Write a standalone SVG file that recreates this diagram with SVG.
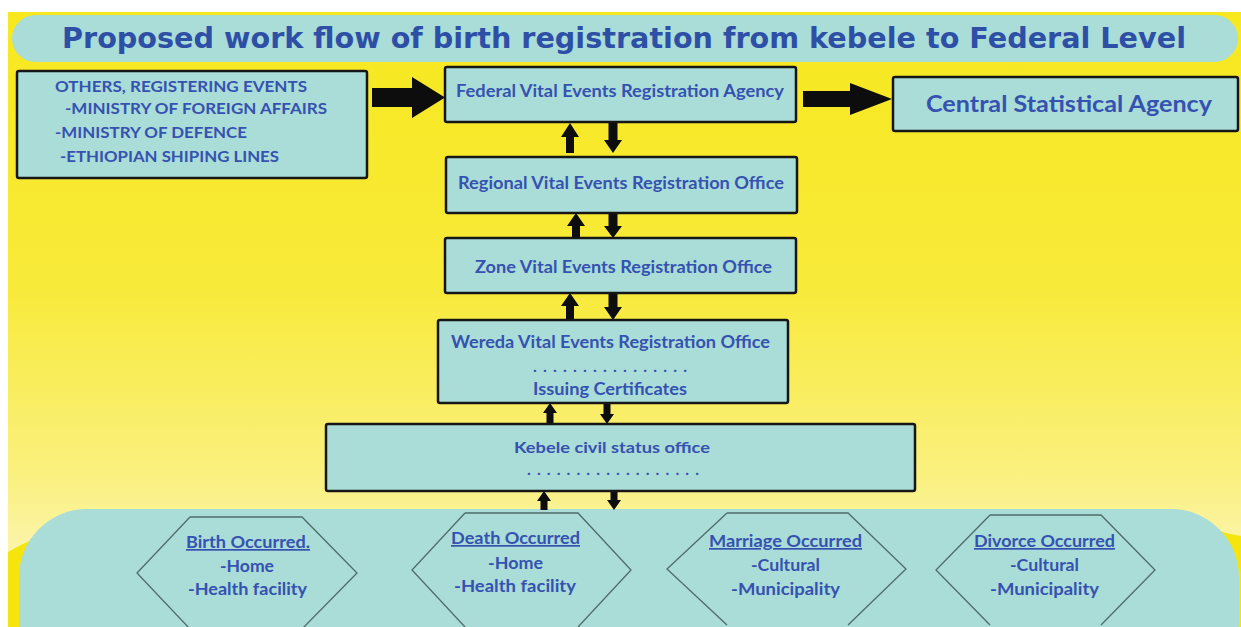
<svg xmlns="http://www.w3.org/2000/svg" width="1241" height="627" viewBox="0 0 1241 627">
<defs>
<linearGradient id="bg" x1="0" y1="0" x2="0" y2="1">
<stop offset="0" stop-color="#f7e81e"/>
<stop offset="0.45" stop-color="#f8ea3a"/>
<stop offset="0.75" stop-color="#faf07e"/>
<stop offset="0.95" stop-color="#fdf7c4"/>
</linearGradient>
<style>
.box{fill:#aadcd8;stroke:#161616;stroke-width:2.5}
.t{font-family:Lato,"Open Sans","Liberation Sans",sans-serif;font-weight:bold;fill:#3552b0}
.hex{fill:none;stroke:#4e6c68;stroke-width:1.3}
.arr{fill:#0d0d0d}
</style>
</defs>
<rect x="0" y="0" width="1241" height="627" fill="#ffffff"/>
<rect x="8" y="12" width="1233" height="615" fill="url(#bg)"/>
<path d="M8,552 Q20,545 40,536 L60,520 L1180,520 L1230,534 L1241,536 L1241,627 L8,627 Z" fill="#f6e50c"/>
<rect x="12" y="15" width="1226" height="47" rx="23.5" fill="#aadcd8"/>
<text x="624" y="48" text-anchor="middle" textLength="1124" lengthAdjust="spacingAndGlyphs" style="font-family:'DejaVu Sans','Liberation Sans',sans-serif;font-weight:bold;font-size:28px;fill:#2e4fa6">Proposed work flow of birth registration from kebele to Federal Level</text>
<rect x="19" y="509" width="1220" height="180" rx="68" fill="#aadcd8"/>

<g id="connectors">
<path class="arr" d="M372,88 L412,88 L412,77 L445,97.5 L412,118 L412,107 L372,107 Z"/>
<path class="arr" d="M803,91 L850,91 L850,83 L892,99 L850,115 L850,107 L803,107 Z"/>
<path class="arr" d="M570,123 L579,137 L574,137 L574,153 L566,153 L566,137 L561,137 Z"/>
<path class="arr" d="M613,153 L622,140 L617.5,140 L617.5,123 L608.5,123 L608.5,140 L604,140 Z"/>
<path class="arr" d="M576,213 L585,226 L580,226 L580,238 L572,238 L572,226 L567,226 Z"/>
<path class="arr" d="M613,238 L622,226 L617.5,226 L617.5,213 L608.5,213 L608.5,226 L604,226 Z"/>
<path class="arr" d="M570,293 L579,306 L574,306 L574,320 L566,320 L566,306 L561,306 Z"/>
<path class="arr" d="M613,320 L622,307 L617.5,307 L617.5,293 L608.5,293 L608.5,307 L604,307 Z"/>
<path class="arr" d="M550,403 L557,413 L553.5,413 L553.5,424 L546.5,424 L546.5,413 L543,413 Z"/>
<path class="arr" d="M607,424 L614,414 L610.5,414 L610.5,403 L603.5,403 L603.5,414 L600,414 Z"/>
<path class="arr" d="M544,491 L551,501 L547.5,501 L547.5,510 L540.5,510 L540.5,501 L537,501 Z"/>
<path class="arr" d="M614,510 L621,500 L617.5,500 L617.5,491 L610.5,491 L610.5,500 L607,500 Z"/>
</g>

<g id="others">
<rect class="box" x="17" y="71" width="350" height="107" rx="2"/>
<text class="t" x="55" y="92" font-size="16" textLength="252" lengthAdjust="spacingAndGlyphs">OTHERS, REGISTERING EVENTS</text>
<text class="t" x="65" y="114" font-size="16" textLength="262" lengthAdjust="spacingAndGlyphs">-MINISTRY OF FOREIGN AFFAIRS</text>
<text class="t" x="55" y="138" font-size="16" textLength="192" lengthAdjust="spacingAndGlyphs">-MINISTRY OF DEFENCE</text>
<text class="t" x="60" y="162" font-size="16" textLength="219" lengthAdjust="spacingAndGlyphs">-ETHIOPIAN SHIPING LINES</text>
</g>

<g id="federal">
<rect class="box" x="445" y="67" width="351" height="55" rx="2"/>
<text class="t" x="620" y="97" font-size="16.5" text-anchor="middle" textLength="328" lengthAdjust="spacingAndGlyphs">Federal Vital Events Registration Agency</text>
</g>

<g id="csa">
<rect class="box" x="893" y="77" width="345" height="54" rx="2"/>
<text class="t" x="1069" y="112" font-size="22" text-anchor="middle" textLength="286" lengthAdjust="spacingAndGlyphs">Central Statistical Agency</text>
</g>

<g id="regional">
<rect class="box" x="446" y="157" width="351" height="56" rx="2"/>
<text class="t" x="621" y="189" font-size="16.5" text-anchor="middle" textLength="326" lengthAdjust="spacingAndGlyphs">Regional Vital Events Registration Office</text>
</g>

<g id="zone">
<rect class="box" x="445" y="238" width="351" height="55" rx="2"/>
<text class="t" x="623.5" y="273" font-size="16.5" text-anchor="middle" textLength="297" lengthAdjust="spacingAndGlyphs">Zone Vital Events Registration Office</text>
</g>

<g id="wereda">
<rect class="box" x="438" y="320" width="350" height="83" rx="2"/>
<text class="t" x="610.5" y="348" font-size="16.5" text-anchor="middle" textLength="319" lengthAdjust="spacingAndGlyphs">Wereda Vital Events Registration Office</text>
<text class="t" x="610" y="372" font-size="16" text-anchor="middle" textLength="154" lengthAdjust="spacing">................</text>
<text class="t" x="610" y="395" font-size="16.5" text-anchor="middle" textLength="154" lengthAdjust="spacingAndGlyphs">Issuing Certificates</text>
</g>

<g id="kebele">
<rect class="box" x="326" y="424" width="589" height="67" rx="2"/>
<text class="t" x="612" y="453" font-size="16" text-anchor="middle" textLength="196" lengthAdjust="spacingAndGlyphs">Kebele civil status office</text>
<text class="t" x="613" y="475" font-size="16" text-anchor="middle" textLength="172" lengthAdjust="spacing">..................</text>
</g>

<g id="birth">
<path class="hex" d="M190,517 L302,517 L357,573 L302,629 M190,629 L137,573 L190,517"/>
<text class="t" x="248" y="548" font-size="17" text-anchor="middle" text-decoration="underline" textLength="124" lengthAdjust="spacingAndGlyphs">Birth Occurred.</text>
<text class="t" x="247" y="572" font-size="17" text-anchor="middle" textLength="54" lengthAdjust="spacingAndGlyphs">-Home</text>
<text class="t" x="247.5" y="595" font-size="17" text-anchor="middle" textLength="119" lengthAdjust="spacingAndGlyphs">-Health facility</text>
</g>

<g id="death">
<path class="hex" d="M465,513 L578,513 L631,570 L578,627 M465,627 L412,570 L465,513"/>
<text class="t" x="515.5" y="544" font-size="17" text-anchor="middle" text-decoration="underline" textLength="129" lengthAdjust="spacingAndGlyphs">Death Occurred</text>
<text class="t" x="515.5" y="569" font-size="17" text-anchor="middle" textLength="55" lengthAdjust="spacingAndGlyphs">-Home</text>
<text class="t" x="515" y="592" font-size="17" text-anchor="middle" textLength="122" lengthAdjust="spacingAndGlyphs">-Health facility</text>
</g>

<g id="marriage">
<path class="hex" d="M727,513 L848,513 L906,569 L848,625 M727,625 L667,569 L727,513"/>
<text class="t" x="785.5" y="547" font-size="17" text-anchor="middle" text-decoration="underline" textLength="153" lengthAdjust="spacingAndGlyphs">Marriage Occurred</text>
<text class="t" x="785.5" y="571" font-size="17" text-anchor="middle" textLength="69" lengthAdjust="spacingAndGlyphs">-Cultural</text>
<text class="t" x="785.5" y="595" font-size="17" text-anchor="middle" textLength="109" lengthAdjust="spacingAndGlyphs">-Municipality</text>
</g>

<g id="divorce">
<path class="hex" d="M990,515 L1101,515 L1155,570 L1101,625 M990,625 L936,570 L990,515"/>
<text class="t" x="1044.5" y="547" font-size="17" text-anchor="middle" text-decoration="underline" textLength="141" lengthAdjust="spacingAndGlyphs">Divorce Occurred</text>
<text class="t" x="1044.5" y="571" font-size="17" text-anchor="middle" textLength="69" lengthAdjust="spacingAndGlyphs">-Cultural</text>
<text class="t" x="1044.5" y="595" font-size="17" text-anchor="middle" textLength="109" lengthAdjust="spacingAndGlyphs">-Municipality</text>
</g>
</svg>
